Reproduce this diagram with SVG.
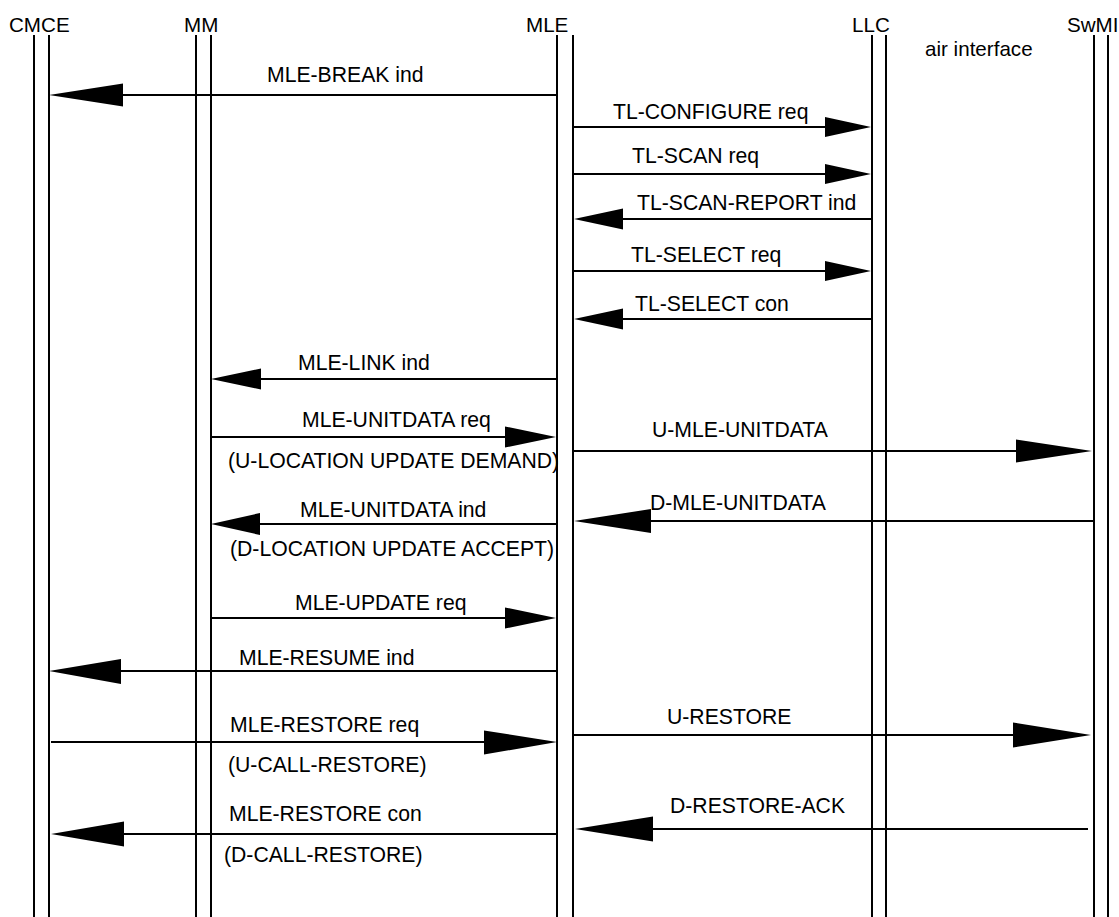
<svg xmlns="http://www.w3.org/2000/svg" width="1119" height="917" viewBox="0 0 1119 917">
<style>
.ll{stroke:#000;stroke-width:2;fill:none}
.msg{stroke:#000;stroke-width:2;fill:none}
.ah{fill:#000;stroke:none}
.hd{font-family:"Liberation Sans",Arial,sans-serif;font-size:20.6px;fill:#000}
.lb{font-family:"Liberation Sans",Arial,sans-serif;font-size:21.2px;fill:#000}
</style>
<rect width="1119" height="917" fill="#fff"/>
<g id="CMCE"><line class="ll" x1="34" y1="35" x2="34" y2="917"/><line class="ll" x1="49" y1="35" x2="49" y2="917"/><text class="hd" x="9" y="32">CMCE</text></g>
<g id="MM"><line class="ll" x1="196" y1="35" x2="196" y2="917"/><line class="ll" x1="211" y1="35" x2="211" y2="917"/><text class="hd" x="184" y="32">MM</text></g>
<g id="MLE"><line class="ll" x1="557" y1="35" x2="557" y2="917"/><line class="ll" x1="573" y1="35" x2="573" y2="917"/><text class="hd" x="526" y="32">MLE</text></g>
<g id="LLC"><line class="ll" x1="872" y1="35" x2="872" y2="917"/><line class="ll" x1="886" y1="35" x2="886" y2="917"/><text class="hd" x="852" y="32">LLC</text></g>
<g id="SwMI"><line class="ll" x1="1094" y1="35" x2="1094" y2="917"/><line class="ll" x1="1108" y1="35" x2="1108" y2="917"/><text class="hd" x="1067" y="32">SwMI</text></g>
<text class="hd" x="925" y="56">air interface</text>
<g id="connectors">
<line class="msg" x1="557" y1="95" x2="60" y2="95"/><polygon class="ah" points="49,95 123,83.5 123,106.5"/>
<text class="lb" x="267" y="82">MLE-BREAK ind</text>
<line class="msg" x1="573" y1="127" x2="860" y2="127"/><polygon class="ah" points="871,127 825,117 825,137"/>
<text class="lb" x="613" y="119">TL-CONFIGURE req</text>
<line class="msg" x1="573" y1="174" x2="860" y2="174"/><polygon class="ah" points="871,174 825,164 825,184"/>
<text class="lb" x="632" y="163">TL-SCAN req</text>
<line class="msg" x1="871" y1="219" x2="585" y2="219"/><polygon class="ah" points="574,219 623,208.5 623,229.5"/>
<text class="lb" x="637" y="210">TL-SCAN-REPORT ind</text>
<line class="msg" x1="573" y1="271" x2="860" y2="271"/><polygon class="ah" points="871,271 825,261 825,281"/>
<text class="lb" x="631" y="262">TL-SELECT req</text>
<line class="msg" x1="871" y1="319" x2="585" y2="319"/><polygon class="ah" points="574,319 623,308.5 623,329.5"/>
<text class="lb" x="635" y="311">TL-SELECT con</text>
<line class="msg" x1="557" y1="379" x2="222" y2="379"/><polygon class="ah" points="211,379 261,368.5 261,389.5"/>
<text class="lb" x="298" y="370">MLE-LINK ind</text>
<line class="msg" x1="211" y1="437" x2="545" y2="437"/><polygon class="ah" points="556,437 505,426.5 505,447.5"/>
<text class="lb" x="302" y="427">MLE-UNITDATA req</text>
<text class="lb" x="228" y="468">(U-LOCATION UPDATE DEMAND)</text>
<line class="msg" x1="573" y1="451" x2="1080" y2="451"/><polygon class="ah" points="1092,451 1016,439.5 1016,462.5"/>
<text class="lb" x="652" y="437">U-MLE-UNITDATA</text>
<line class="msg" x1="557" y1="524" x2="222" y2="524"/><polygon class="ah" points="211,524 260,513 260,535"/>
<text class="lb" x="300" y="517">MLE-UNITDATA ind</text>
<text class="lb" x="230" y="556">(D-LOCATION UPDATE ACCEPT)</text>
<line class="msg" x1="1093" y1="521" x2="585" y2="521"/><polygon class="ah" points="574,521 651,509 651,533"/>
<text class="lb" x="650" y="510">D-MLE-UNITDATA</text>
<line class="msg" x1="211" y1="618" x2="545" y2="618"/><polygon class="ah" points="556,618 505,607.5 505,628.5"/>
<text class="lb" x="295" y="610">MLE-UPDATE req</text>
<line class="msg" x1="557" y1="671" x2="60" y2="671"/><polygon class="ah" points="49,671 121,659 121,684"/>
<text class="lb" x="239" y="665">MLE-RESUME ind</text>
<line class="msg" x1="51" y1="742" x2="545" y2="742"/><polygon class="ah" points="557,742 484,730.5 484,754.5"/>
<text class="lb" x="230" y="732">MLE-RESTORE req</text>
<text class="lb" x="228" y="772">(U-CALL-RESTORE)</text>
<line class="msg" x1="573" y1="735" x2="1080" y2="735"/><polygon class="ah" points="1091,735 1013,722.5 1013,747.5"/>
<text class="lb" x="667" y="724">U-RESTORE</text>
<line class="msg" x1="557" y1="834" x2="62" y2="834"/><polygon class="ah" points="51,834 124,821.5 124,846.5"/>
<text class="lb" x="229" y="821">MLE-RESTORE con</text>
<text class="lb" x="224" y="862">(D-CALL-RESTORE)</text>
<line class="msg" x1="1088" y1="829" x2="586" y2="829"/><polygon class="ah" points="575,829 653,816.5 653,841.5"/>
<text class="lb" x="670" y="813">D-RESTORE-ACK</text>
</g>
</svg>
